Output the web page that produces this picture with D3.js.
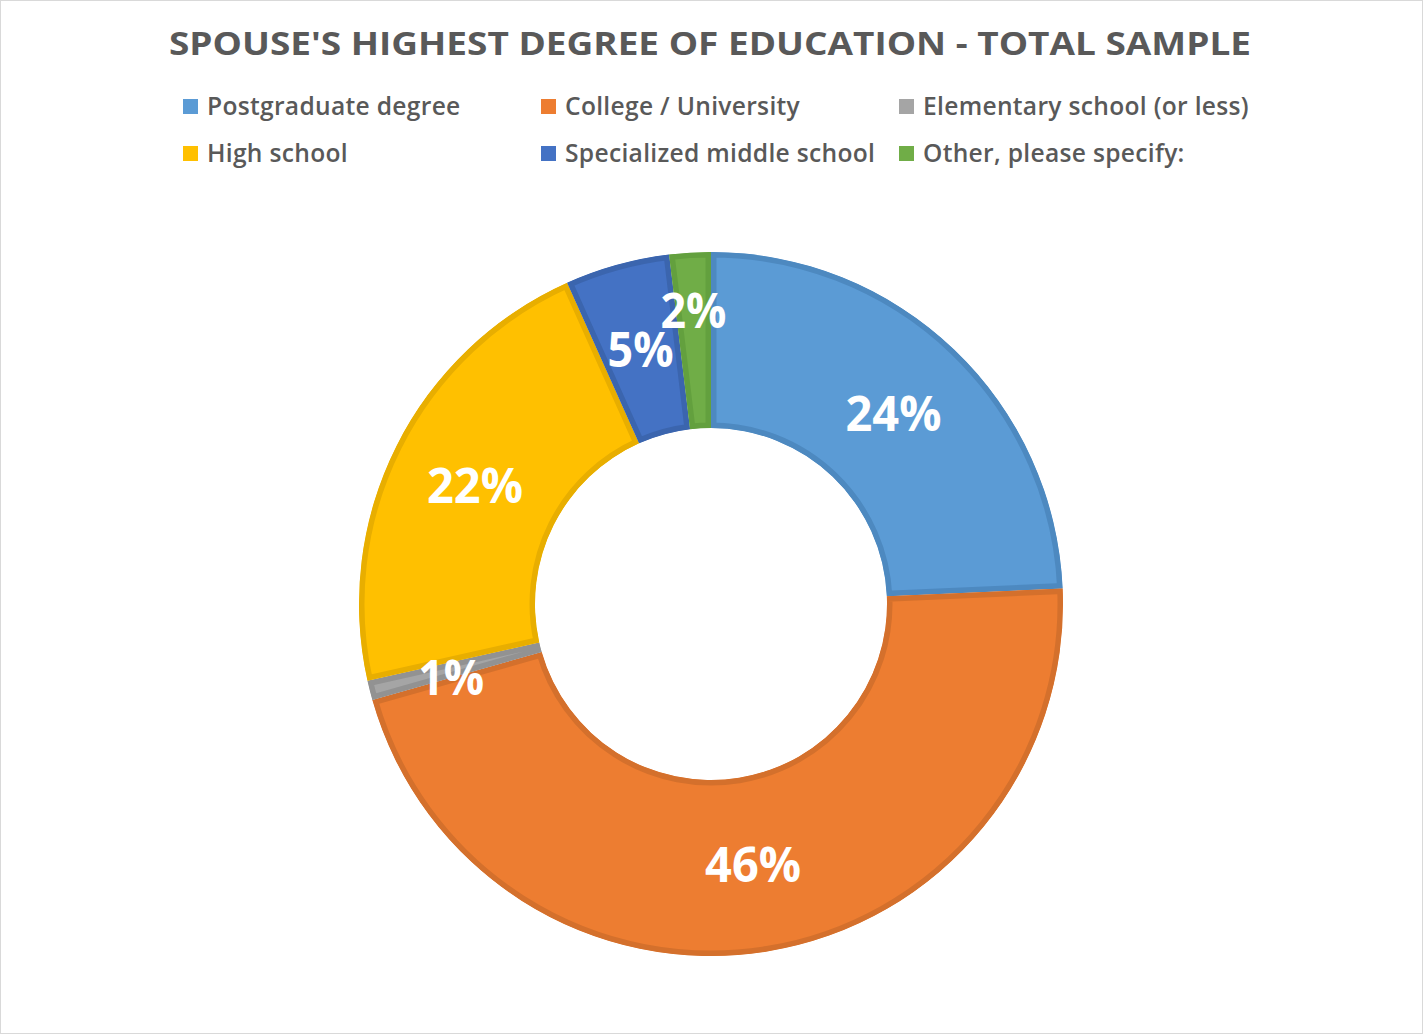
<!DOCTYPE html>
<html>
<head>
<meta charset="utf-8">
<script src="https://cdn.jsdelivr.net/npm/d3@7/dist/d3.min.js"></script>
<style>
  body { margin: 0; background: #fff; }
  svg { display: block; font-family: "Open Sans", sans-serif; }
</style>
</head>
<body>
<svg id="chart" width="1423" height="1034"></svg>
<script>
// chart data
const title = "SPOUSE'S HIGHEST DEGREE OF EDUCATION - TOTAL SAMPLE";
const categories = ["Postgraduate degree", "College / University", "Elementary school (or less)",
    "High school", "Specialized middle school", "Other, please specify:"];
const values = [24.3, 46.3, 0.9, 21.8, 4.8, 1.9];
const labels = ["24%", "46%", "1%", "22%", "5%", "2%"];

const fills = ["#5b9bd5", "#ed7d31", "#a5a5a5", "#ffc000", "#4472c4", "#70ad47"];
const borders = ["#4d89c0", "#d4702c", "#929292", "#e8ae00", "#3b65ae", "#63a03e"];

const width = 1423, height = 1034;
const cx = 711, cy = 604;
const outerR = 352, innerR = 176;

const svg = d3.select('#chart');

// frame
svg.append('rect')
    .attr('x', 0.5).attr('y', 0.5)
    .attr('width', width - 1).attr('height', height - 1)
    .attr('fill', '#fff')
    .attr('stroke', '#d9d9d9');

// title
svg.append('text')
    .attr('x', 710)
    .attr('y', 55)
    .attr('text-anchor', 'middle')
    .attr('font-size', 32)
    .attr('font-weight', 700)
    .attr('fill', '#595959')
    .attr('textLength', 1082)
    .attr('lengthAdjust', 'spacingAndGlyphs')
    .text(title);

// legend, 3 columns x 2 rows
const legendX = d3.scaleOrdinal().domain([0, 1, 2]).range([183, 541, 899]);
const legendY = d3.scaleOrdinal().domain([0, 1]).range([107, 154]);

const legend = svg.append('g')
    .selectAll('g')
    .data(categories)
    .join('g')
    .attr('transform', (d, i) => `translate(${legendX(i % 3)},${legendY(Math.floor(i / 3))})`);

legend.append('rect')
    .attr('x', 0).attr('y', -8)
    .attr('width', 15).attr('height', 15)
    .attr('fill', (d, i) => fills[i]);

legend.append('text')
    .attr('x', 24)
    .attr('y', 8)
    .attr('font-size', 24.6)
    .attr('font-weight', 600)
    .attr('fill', '#595959')
    .attr('letter-spacing', 0.3)
    .text(d => d);

// donut
const pie = d3.pie().sort(null).value(d => d.value);
const arc = d3.arc().innerRadius(innerR).outerRadius(outerR);
const arcs = pie(categories.map((c, i) => ({ name: c, value: values[i], label: labels[i], i })));

const donut = svg.append('g').attr('transform', `translate(${cx},${cy})`);
const defs = svg.append('defs');

defs.selectAll('clipPath')
    .data(arcs)
    .join('clipPath')
    .attr('id', (d, i) => 'clip' + i)
    .append('path')
    .attr('d', arc);

// border sits inside each slice, so clip a double-width stroke
donut.selectAll('path.slice')
    .data(arcs)
    .join('path')
    .attr('class', 'slice')
    .attr('d', arc)
    .attr('fill', d => fills[d.data.i])
    .attr('stroke', d => borders[d.data.i])
    .attr('stroke-width', 11)
    .attr('clip-path', (d, i) => `url(#clip${i})`);

// labels at mid radius, tiny slices pushed outward a bit
const midR = (innerR + outerR) / 2;
donut.selectAll('text')
    .data(arcs)
    .join('text')
    .attr('transform', d => {
        const a = (d.startAngle + d.endAngle) / 2;
        let r = midR;
        if (d.data.value < 3 && d.data.value > 1.5) r = midR + 30;
        if (d.data.value <= 1.5) r = midR + 4;
        return `translate(${Math.sin(a) * r},${-Math.cos(a) * r + (d.data.value <= 1.5 ? 8 : 0)})`;
    })
    .attr('text-anchor', 'middle')
    .attr('dy', '0.36em')
    .attr('font-size', 49)
    .attr('font-weight', 700)
    .attr('fill', '#fff')
    .attr('textLength', d => d.data.label.length === 3 ? 96 : 66)
    .attr('lengthAdjust', 'spacingAndGlyphs')
    .text(d => d.data.label);
</script>
</body>
</html>
